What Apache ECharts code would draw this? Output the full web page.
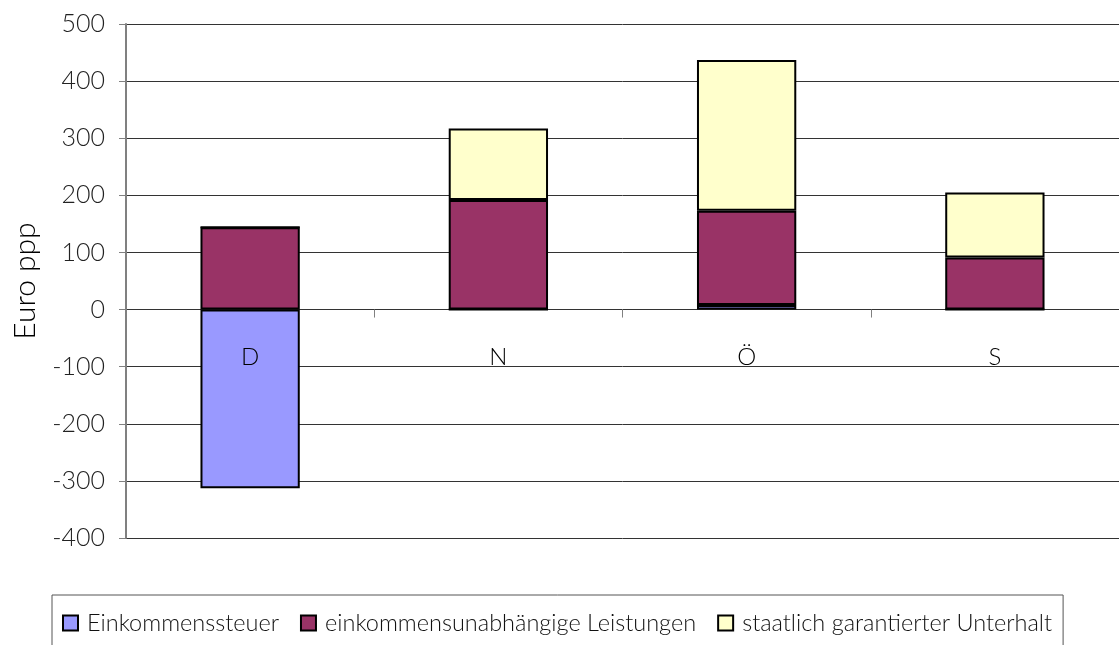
<!DOCTYPE html>
<html>
<head>
<meta charset="utf-8">
<style>
  html, body { margin: 0; padding: 0; background: #fff; }
  #chart { width: 1119px; height: 645px; }
</style>
<script src="https://cdn.jsdelivr.net/npm/echarts@6/dist/echarts.min.js"></script>
</head>
<body>
<div id="chart"></div>
<script>
// categories and stacked values (Euro ppp)
const categories = ['D', 'N', 'Ö', 'S'];
const einkommenssteuer = [-313, 0, 8, 0];
const leistungen = [144, 192, 165, 91];
const unterhalt = [0, 125, 264, 114];

const font = 'Lato, "Open Sans", sans-serif';
const chart = echarts.init(document.getElementById('chart'));

function bar(name, data, color) {
  return {
    name,
    type: 'bar',
    stack: 'total',
    data,
    barWidth: '40%',
    itemStyle: { color, borderColor: '#000', borderWidth: 2 },
  };
}

chart.setOption({
  animation: false,
  textStyle: { fontFamily: font },
  grid: { left: 126, right: 0, top: 24, bottom: 107 },
  legend: {
    left: 52,
    top: 595,
    itemWidth: 15,
    itemHeight: 15,
    itemGap: 21,
    padding: [16, 11, 30, 10],
    borderColor: '#555',
    borderWidth: 1,
    textStyle: { fontFamily: font, fontSize: 23.5, fontWeight: 300, color: '#111', padding: [0, 0, 0, 4] },
    itemStyle: { borderColor: '#000', borderWidth: 2 },
    icon: 'rect',
  },
  xAxis: {
    type: 'category',
    data: categories,
    z: 10, // keep the D label above its bar
    axisLine: { onZero: true, show: false },
    axisTick: { show: true, length: 8, lineStyle: { color: '#808080' } },
    axisLabel: { fontSize: 24, color: '#000', margin: -193, fontWeight: 300 },
    splitLine: { show: false },
  },
  yAxis: {
    type: 'value',
    min: -400,
    max: 500,
    interval: 100,
    name: 'Euro ppp',
    nameLocation: 'middle',
    nameGap: 86,
    nameTextStyle: { fontSize: 30, color: '#000', fontWeight: 300 },
    axisLine: { show: true, lineStyle: { color: '#808080', width: 2 } },
    axisTick: { show: true, length: 7, lineStyle: { color: '#808080' } },
    axisLabel: { fontSize: 25, color: '#222', margin: 21, fontWeight: 300 },
    splitLine: { lineStyle: { color: '#333', width: 1 } },
  },
  series: [
    bar('Einkommenssteuer', einkommenssteuer, '#9999FF'),
    bar('einkommensunabhängige Leistungen', leistungen, '#993366'),
    bar('staatlich garantierter Unterhalt', unterhalt, '#FFFFCC'),
  ],
});
</script>
</body>
</html>
